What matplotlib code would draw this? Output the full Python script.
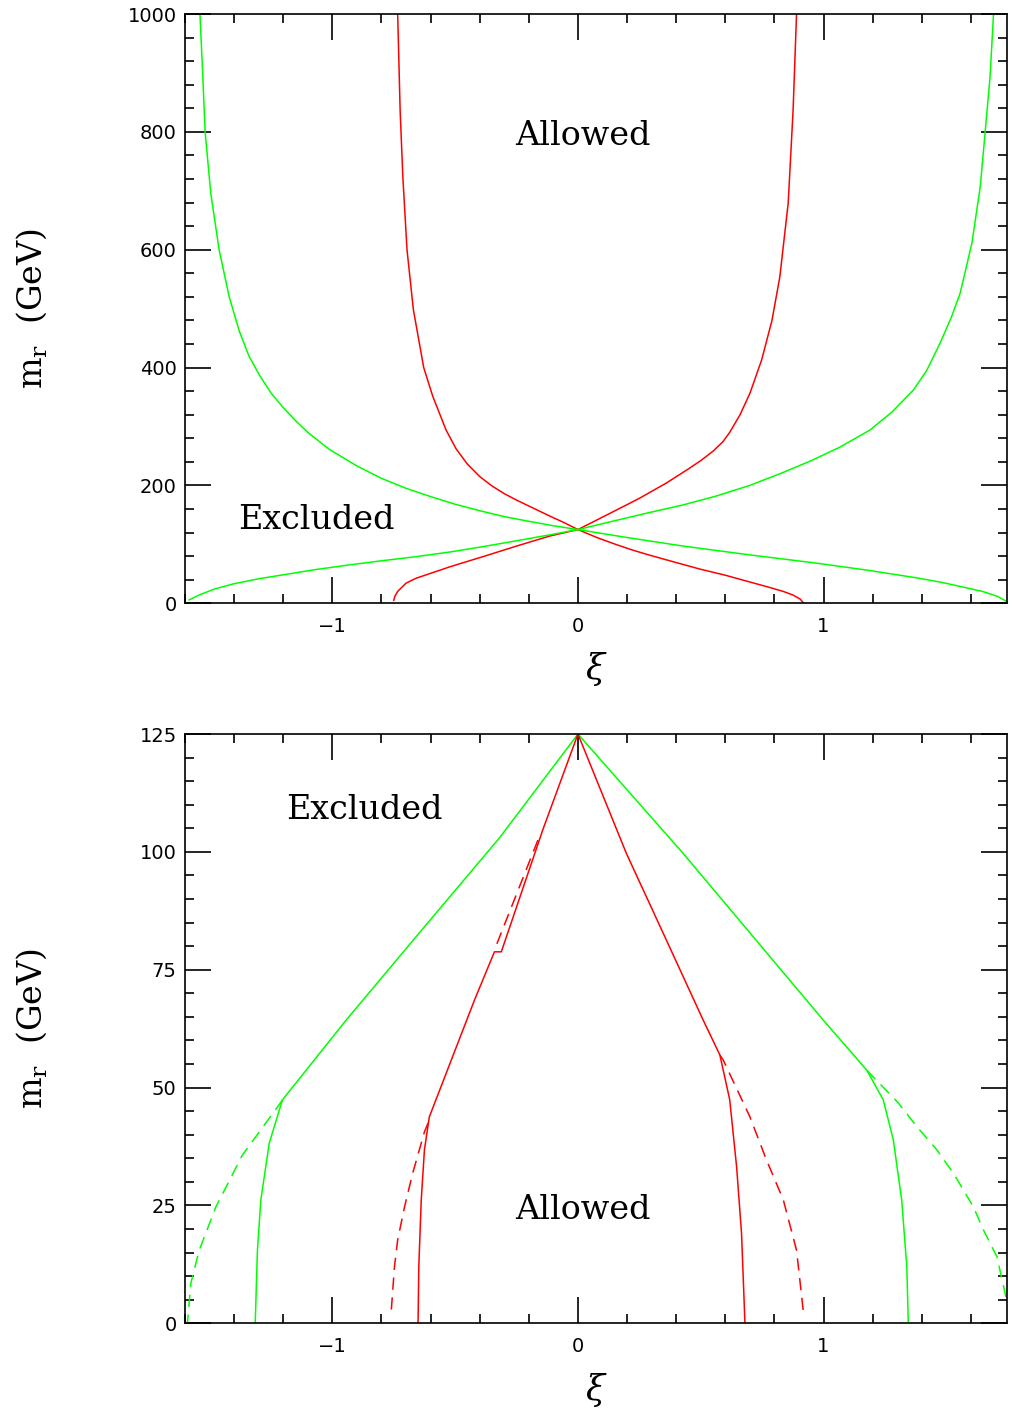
import numpy as np
import matplotlib
matplotlib.use('Agg')
import matplotlib.pyplot as plt
from matplotlib.ticker import MultipleLocator

plt.rcParams['mathtext.fontset'] = 'dejavuserif'

RED = '#ff0000'
GREEN = '#00ff00'

# ---- top panel: m_r (GeV) vs xi ----
redA_x = [-0.734, -0.724, -0.713, -0.696, -0.670, -0.628, -0.591, -0.537, -0.496, -0.45,
          -0.40, -0.35, -0.30, -0.25, -0.18, -0.115, -0.055, 0.0, 0.08, 0.156,
          0.22, 0.292, 0.40, 0.496, 0.60, 0.70, 0.77, 0.836, 0.875, 0.905,
          0.917]
redA_y = [1000, 837, 724, 600, 498, 400, 351, 294, 262, 236,
          215, 199, 186, 175, 161, 148, 136.5, 125, 111, 99.5,
          90.5, 81.5, 69, 58, 47.5, 36, 28, 20, 14, 7,
          1]

redB_x = [-0.750, -0.745, -0.734, -0.700, -0.659, -0.52, -0.387, -0.25, -0.115, 0.0,
          0.156, 0.25, 0.360, 0.45, 0.50, 0.55, 0.59, 0.618, 0.66, 0.70,
          0.748, 0.79, 0.822, 0.856, 0.876, 0.890]
redB_y = [5, 12, 20, 34, 42.4, 62, 79, 97, 114, 125,
          158, 178, 204, 228, 242, 258, 274, 290, 320, 356,
          413, 480, 554, 679, 837, 1000]

grnC_x = [-1.539, -1.528, -1.518, -1.495, -1.461, -1.420, -1.379, -1.34, -1.298, -1.25,
          -1.20, -1.15, -1.10, -1.012, -0.90, -0.80, -0.70, -0.60, -0.50, -0.40,
          -0.30, -0.20, -0.10, 0.0, 0.2, 0.428, 0.7, 0.972, 1.18, 1.38,
          1.48, 1.583, 1.651, 1.706, 1.746]
grnC_y = [1000, 900, 800, 696, 600, 520, 462, 420, 388, 357,
          332, 310, 290, 261, 233, 212, 195, 181, 168, 157,
          147, 139, 131.5, 125, 111.5, 97, 82, 68, 56, 43,
          35.5, 26, 19.5, 12, 3]

grnD_x = [-1.583, -1.542, -1.48, -1.406, -1.3, -1.203, -1.07, -0.931, -0.8, -0.659,
          -0.52, -0.387, -0.25, -0.115, 0.0, 0.15, 0.292, 0.43, 0.564, 0.70,
          0.836, 0.95, 1.067, 1.189, 1.28, 1.366, 1.42, 1.474, 1.52, 1.556,
          1.604, 1.638, 1.658, 1.678, 1.692]
grnD_y = [5.6, 14, 24, 32.5, 41.5, 48, 57, 65, 72, 79,
          87, 96, 106, 116, 125, 140, 154, 167, 182, 200,
          222, 242, 265, 294, 325, 362, 395, 441, 485, 526,
          611, 707, 800, 894, 1000]

# ---- bottom panel ----
gL_x = [0.0, -0.319, -0.659, -0.944, -1.203, -1.257, -1.291, -1.305, -1.314]
gL_y = [125, 103, 82, 64.3, 47.4, 38.2, 26.2, 15.5, 0]
gLd_x = [-1.203, -1.223, -1.366, -1.474, -1.542, -1.576, -1.590]
gLd_y = [47.4, 45.9, 35.7, 24.7, 15.5, 8.5, 0]

rL_x = [0.0, -0.143, -0.312, -0.340, -0.421, -0.605, -0.625, -0.638, -0.648, -0.651]
rL_y = [125, 104.7, 78.8, 78.8, 68.6, 43.8, 36.8, 26.2, 12, 0]
rLd1_x = [-0.163, -0.340]
rLd1_y = [102.5, 79.2]
rLd2_x = [-0.610, -0.625, -0.673, -0.706, -0.734, -0.747, -0.761]
rLd2_y = [42.5, 40.6, 31.8, 24.7, 17.7, 12, 2]

rR_x = [0.0, 0.197, 0.360, 0.510, 0.578, 0.618, 0.646, 0.666, 0.680]
rR_y = [125, 99.7, 81.3, 64.3, 56.9, 47.4, 33.2, 19.1, 0]
rRd_x = [0.578, 0.591, 0.700, 0.768, 0.836, 0.890, 0.917]
rRd_y = [56.9, 55.9, 43.8, 34.6, 26.2, 15.5, 2.8]

gR_x = [0.0, 0.428, 0.999, 1.176, 1.243, 1.284, 1.318, 1.339, 1.345]
gR_y = [125, 99.7, 64.3, 53.7, 47.4, 38.9, 26.2, 12, 0]
gRd_x = [1.176, 1.305, 1.380, 1.461, 1.529, 1.610, 1.651, 1.706, 1.745]
gRd_y = [53.7, 46.7, 41.7, 36.8, 31.8, 24.7, 19.8, 14.1, 5]

XLIM = (-1.6, 1.747)
LW = 1.1
DASH = (8, 5)

fig = plt.figure(figsize=(10.13, 14.16), dpi=100)
ax1 = fig.add_axes([0.1826, 0.5740, 0.8115, 0.4161])
ax2 = fig.add_axes([0.1826, 0.0655, 0.8115, 0.4161])


def style(ax, ymaj, ymin):
    ax.set_xlim(*XLIM)
    ax.xaxis.set_major_locator(MultipleLocator(1))
    ax.xaxis.set_minor_locator(MultipleLocator(0.2))
    ax.yaxis.set_major_locator(MultipleLocator(ymaj))
    ax.yaxis.set_minor_locator(MultipleLocator(ymin))
    ax.tick_params(which='both', direction='in', top=True, right=True,
                   width=1.2, labelsize=14)
    ax.tick_params(which='major', length=18.5)
    ax.tick_params(which='minor', length=6.7)
    ax.tick_params(axis='x', pad=10)
    ax.tick_params(axis='y', pad=6)
    for s in ax.spines.values():
        s.set_linewidth(1.2)
    ax.set_xlabel(r'$\xi$', fontsize=25, va='center')
    ax.set_ylabel(r'$\mathregular{m_r}$  (GeV)', fontsize=24, va='center',
                  family='DejaVu Serif')
    ax.yaxis.set_label_coords(-0.186, 0.5)


# top
ax1.plot(redA_x, redA_y, color=RED, lw=LW)
ax1.plot(redB_x, redB_y, color=RED, lw=LW)
ax1.plot(grnC_x, grnC_y, color=GREEN, lw=LW)
ax1.plot(grnD_x, grnD_y, color=GREEN, lw=LW)
ax1.set_ylim(0, 1000)
style(ax1, 200, 40)
ax1.xaxis.set_label_coords(0.5, -0.112)
ax1.text(0.02, 778, 'Allowed', fontsize=24, family='DejaVu Serif', ha='center', va='baseline')
ax1.text(-1.066, 126, 'Excluded', fontsize=24, family='DejaVu Serif', ha='center', va='baseline')

# bottom
ax2.plot(gL_x, gL_y, color=GREEN, lw=LW)
ax2.plot(gLd_x, gLd_y, color=GREEN, lw=LW, dashes=DASH)
ax2.plot(gR_x, gR_y, color=GREEN, lw=LW)
ax2.plot(gRd_x, gRd_y, color=GREEN, lw=LW, dashes=DASH)
ax2.plot(rL_x, rL_y, color=RED, lw=LW)
ax2.plot(rLd1_x, rLd1_y, color=RED, lw=LW, dashes=DASH)
ax2.plot(rLd2_x, rLd2_y, color=RED, lw=LW, dashes=DASH)
ax2.plot(rR_x, rR_y, color=RED, lw=LW)
ax2.plot(rRd_x, rRd_y, color=RED, lw=LW, dashes=DASH)
ax2.set_ylim(0, 125)
style(ax2, 25, 5)
ax2.xaxis.set_label_coords(0.5, -0.113)
ax2.text(0.02, 22.1, 'Allowed', fontsize=24, family='DejaVu Serif', ha='center', va='baseline')
ax2.text(-0.870, 107, 'Excluded', fontsize=24, family='DejaVu Serif', ha='center', va='baseline')

fig.savefig('out.png', dpi=100)
